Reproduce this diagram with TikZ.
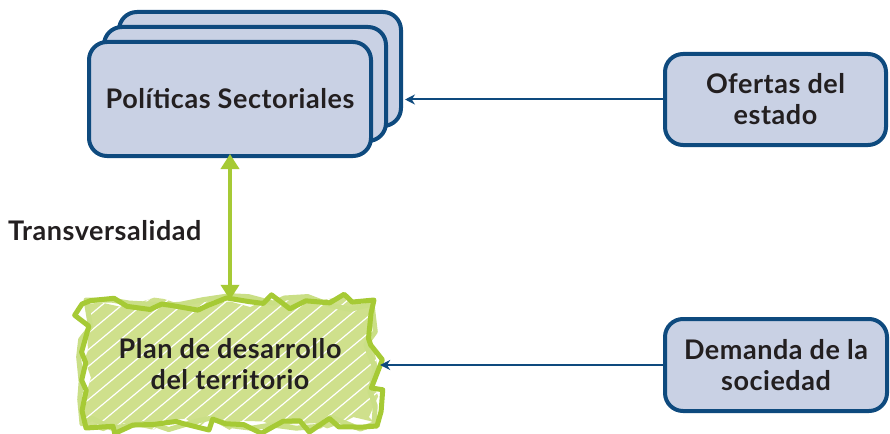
\documentclass[tikz,border=0pt]{standalone}
\usepackage{fontspec}
\setmainfont{Lato}[LetterSpace=2]
\usetikzlibrary{arrows.meta,decorations.pathmorphing}
\definecolor{bord}{HTML}{0E4A7E}
\definecolor{fillb}{HTML}{C9D1E4}
\definecolor{gline}{HTML}{A6CA35}
\definecolor{gfill}{HTML}{CFE08C}
\definecolor{txt}{HTML}{231F20}
\begin{document}
\begin{tikzpicture}[x=1pt,y=-1pt,
  box/.style={draw=bord, line width=4pt, fill=fillb, rounded corners=18pt,
    font=\bfseries\fontsize{27}{31}\selectfont, text=txt, align=center, inner sep=0pt},
  barrow/.style={draw=bord, line width=2pt, -{Stealth[length=10pt,width=10pt]}},
  garrow/.style={draw=gline, line width=4pt, {Triangle[length=15pt,width=18pt]}-{Triangle[length=15pt,width=18pt]}},
  lbl/.style={font=\bfseries\fontsize{27}{31}\selectfont, text=txt, align=center, inner sep=0pt}]
\useasboundingbox (0,0) rectangle (890,433);
% stacked policy boxes
\node[box, minimum width=282, minimum height=114] (back) at (260,69) {};
\node[box, minimum width=282, minimum height=114] (mid) at (245,84) {};
\node[box, minimum width=282, minimum height=114] (pol) at (230,99) {Políticas Sectoriales};
% right boxes
\node[box, minimum width=221, minimum height=91] (of) at (775.5,99.5) {Ofertas del\\estado};
\node[box, minimum width=222, minimum height=92] (dem) at (776,365) {Demanda de la\\sociedad};
% scribbled green box
\pgfmathsetseed{7}
\begin{scope}
  \clip[decorate, decoration={random steps, segment length=16pt, amplitude=6pt}]
    (86,304) -- (370,302) -- (374,422) -- (86,426) -- cycle;
  \fill[gfill] (70,290) rectangle (390,435);
  \foreach \i in {-140,-120,...,330}
    \draw[white, line width=1.2pt] (\i,440) -- (\i+180,290);
\end{scope}
\pgfmathsetseed{11}
\draw[gline!60!white, line width=5pt, line join=round, decorate, decoration={random steps, segment length=20pt, amplitude=8pt}]
  (86,300) -- (372,304) -- (374,424) -- (82,424) -- cycle;
\pgfmathsetmacro{\dummy}{0}
\pgfmathsetseed{3}
\draw[gline, line width=5pt, line join=round, decorate, decoration={random steps, segment length=16pt, amplitude=8pt}]
  (82,304) -- (374,300) -- (377,426) -- (86,428) -- cycle;
\node[lbl, minimum width=300, minimum height=130] (plan) at (230,364) {Plan de desarrollo\\del territorio};
% connectors
\draw[barrow] (of.west) -- ([xshift=2]of.west -| back.east);
\draw[barrow] (dem.west) -- (dem.west -| plan.east);
\coordinate (gtop) at ([yshift=4]pol.south);
\coordinate (gbot) at ([yshift=-1]plan.north);
\draw[garrow] (gtop) -- (gbot);
\node[lbl, anchor=west] (tr) at (8,231) {Transversalidad};
\end{tikzpicture}
\end{document}
